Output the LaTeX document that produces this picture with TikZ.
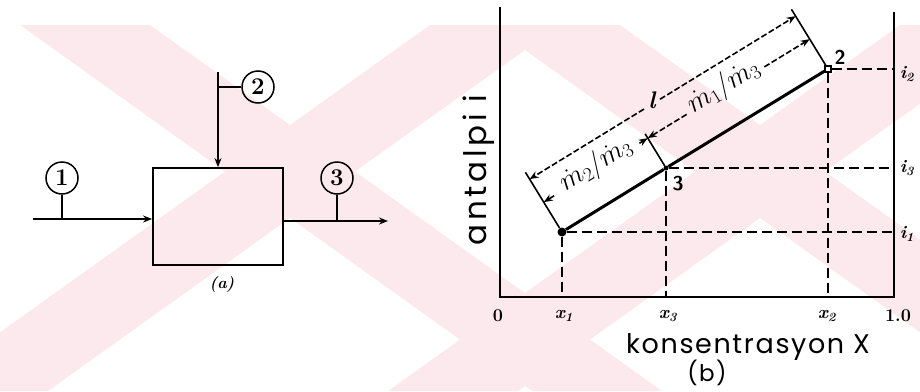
\documentclass[tikz,border=0pt]{standalone}
\usepackage{fix-cm}
\usepackage{fontspec}
\newfontfamily\hand[LetterSpace=6]{Poppins}
\newfontfamily\handwide[LetterSpace=12]{Poppins}
\usetikzlibrary{calc,arrows.meta}
\definecolor{wmpink}{RGB}{252,233,237}
\begin{document}
\begin{tikzpicture}[x=1pt,y=-1pt,
  ink/.style={line width=1.6pt, black},
  flow/.style={ink, -{Stealth[length=9pt,width=7pt]}},
  stream/.style={circle, draw, line width=1.5pt, minimum size=32pt, inner sep=0pt, font=\bfseries\fontsize{24}{26}\selectfont},
  axisline/.style={line width=2pt, black},
  gridline/.style={line width=1.4pt, dash pattern=on 10pt off 5pt},
  thickline/.style={line width=3pt, black},
  extline/.style={line width=1.6pt},
  dimline/.style={line width=1.6pt, dash pattern=on 6pt off 2.5pt},
  dimarrow/.style={dimline, -{Stealth[length=9pt,width=7pt]}},
  ticklab/.style={font=\bfseries\fontsize{18}{20}\selectfont},
  handlab/.style={font=\hand\fontsize{27}{29}\selectfont},
  mlab/.style={font=\fontsize{28}{30}\selectfont, rotate=31.5, inner sep=0pt},
]
\useasboundingbox (0,0) rectangle (920,391);

% watermark
\begin{scope}
\clip (0,25) rectangle (920,391);
\fill[wmpink] (20,25) -- (150,25) -- (662,391) -- (532,391) -- cycle;
\fill[wmpink] (430,25) -- (560,25) -- (48,391) -- (-82,391) -- cycle;
\fill[wmpink] (490,25) -- (620,25) -- (1132,391) -- (1002,391) -- cycle;
\fill[wmpink] (900,25) -- (1030,25) -- (518,391) -- (388,391) -- cycle;
\end{scope}

% ---------- (a) ----------
\node[draw, line width=1.8pt, minimum width=130pt, minimum height=97pt, inner sep=0pt] (box) at (218,216.5) {};
\node[stream] (c1) at (62,178) {1};
\node[stream] (c2) at (258,87) {2};
\node[stream] (c3) at (337,178) {3};
\coordinate (s1start) at (33,219);
\coordinate (s2top) at (218,72);
\coordinate (s3end) at (388,221);
\draw[flow] (s1start) -- (box.west |- s1start);
\draw[ink] (c1.south) -- (c1.south |- s1start);
\draw[flow] (s2top) -- (box.north);
\draw[ink] (s2top |- c2) -- (c2.west);
\draw[flow] (box.east |- s3end) -- (s3end);
\draw[ink] (c3.south) -- (c3.south |- s3end);
\node[font=\bfseries\itshape\fontsize{16}{17}\selectfont] (la) at (222,284) {(a)};

% ---------- (b) ----------
\coordinate (Ytop) at (500,7);
\coordinate (O) at (500,297);
\coordinate (R) at (894,297);
\coordinate (Rtop) at (894,12);
\draw[axisline] (Ytop) -- (O) -- (R) -- (Rtop);

\node[circle, fill, inner sep=0pt, minimum size=9pt] (P1) at (562,232) {};
\node[circle, fill, inner sep=0pt, minimum size=5pt] (P3) at (666,168) {};
\node[rectangle, draw, line width=1.2pt, inner sep=0pt, minimum size=6pt] (P2) at (828,69) {};

\draw[gridline] (P1) -- (P1 |- O);
\draw[gridline] (P3) -- (P3 |- O);
\draw[gridline] (P2) -- (P2 |- O);
\draw[gridline] (P1) -- (P1 -| R);
\draw[gridline] (P3) -- (P3 -| R);
\draw[gridline] (P2) -- (P2 -| R);

\draw[thickline] (P1) -- (P3) -- (P2);

\coordinate (E1) at ($(P1)!70pt!90:(P2)$);
\coordinate (E2) at ($(P2)!70pt!-90:(P1)$);
\coordinate (E3) at ($(P3)!40pt!90:(P2)$);
\draw[extline] (P1) -- (E1);
\draw[extline] (P2) -- (E2);
\draw[extline] (P3) -- (E3);

\coordinate (O1) at ($(P1)!62pt!90:(P2)$);
\coordinate (O2) at ($(P2)!62pt!-90:(P1)$);
\coordinate (I1) at ($(P1)!35pt!90:(P2)$);
\coordinate (I3) at ($(P3)!35pt!90:(P2)$);
\coordinate (I2) at ($(P2)!35pt!-90:(P1)$);

\draw[dimarrow] ($(O1)!0.43!(O2)$) -- (O1);
\draw[dimarrow] ($(O1)!0.49!(O2)$) -- (O2);
\node[font=\bfseries\itshape\fontsize{24}{26}\selectfont, inner sep=0pt] (ell) at ($(O1)!0.46!(O2)+(0,-4)$) {l};

\draw[dimarrow] ($(I1)!0.1!(I3)$) -- (I1);
\draw[dimarrow] ($(I1)!0.92!(I3)$) -- (I3);
\node[mlab] (m23) at ($(I1)!0.52!(I3)+(-2,-4)$) {$\dot{m}_2/\dot{m}_3$};

\draw[dimarrow] ($(I3)!0.24!(I2)$) -- (I3);
\draw[dimarrow] ($(I3)!0.72!(I2)$) -- (I2);
\node[mlab] (m13) at ($(I3)!0.48!(I2)+(-2,-4)$) {$\dot{m}_1/\dot{m}_3$};

\node[font=\bfseries\sffamily\fontsize{20}{22}\selectfont] (l2) at (840,57) {2};
\node[font=\bfseries\sffamily\fontsize{20}{22}\selectfont] (l3) at (678,184) {3};

\node[ticklab] (i2) at (907,74) {\itshape i\textsubscript{2}};
\node[ticklab] (i3) at (907,168) {\itshape i\textsubscript{3}};
\node[ticklab] (i1) at (907,234) {\itshape i\textsubscript{1}};

\node[ticklab] (t0) at (498,316) {0};
\node[ticklab] (tx1) at (564,316) {\itshape x\textsubscript{1}};
\node[ticklab] (tx3) at (668,316) {\itshape x\textsubscript{3}};
\node[ticklab] (tx2) at (827,316) {\itshape x\textsubscript{2}};
\node[ticklab] (t1) at (898,316) {1.0};

\node[font=\handwide\fontsize{31}{33}\selectfont, rotate=90] (ylab) at (479,170) {antalpi i};
\node[handlab] (xlab) at (748,347) {konsentrasyon X};
\node[font=\hand\fontsize{23}{25}\selectfont, inner sep=1pt] (lb) at (707,373) {(b)};
\end{tikzpicture}
\end{document}
